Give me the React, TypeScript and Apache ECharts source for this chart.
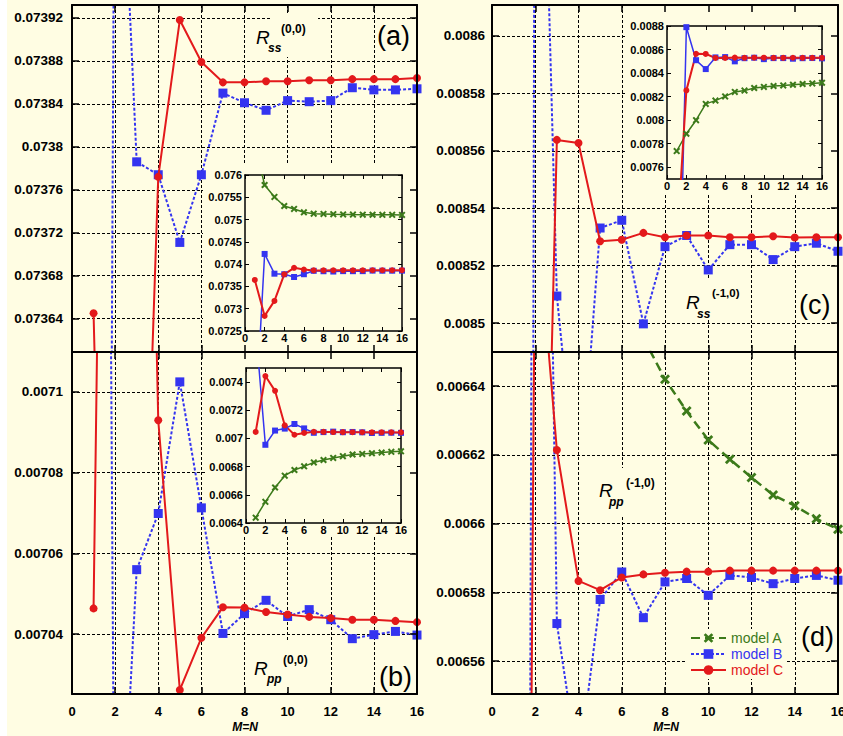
import { useEffect, useRef } from 'react';
import * as echarts from 'echarts';

// ---------- data ----------
const M_N = [1, 2, 3, 4, 5, 6, 7, 8, 9, 10, 11, 12, 13, 14, 15, 16];
const M_N_PP10_A = [7, 8, 9, 10, 11, 12, 13, 14, 15, 16];
const X_TICKS = [0, 2, 4, 6, 8, 10, 12, 14, 16];

// R_ss^(0,0)
const RSS00_A = [0.0767, 0.075776, 0.075507, 0.075305, 0.075238, 0.075163, 0.075132, 0.075126, 0.07512, 0.075115, 0.075112, 0.07511, 0.075108, 0.075107, 0.075106, 0.075105];
const RSS00_B = [0.07021, 0.074229, 0.073786, 0.073774, 0.073711, 0.073774, 0.07385, 0.073841, 0.073834, 0.073843, 0.073842, 0.073843, 0.073855, 0.073853, 0.073853, 0.073854];
const RSS00_C = [0.073645, 0.072839, 0.073175, 0.073772, 0.073918, 0.073879, 0.07386, 0.07386, 0.073861, 0.073861, 0.073862, 0.073862, 0.073863, 0.073863, 0.073863, 0.073864];

// R_pp^(0,0)
const RPP00_A = [0.006438, 0.00655, 0.006652, 0.006736, 0.006776, 0.006802, 0.00683, 0.006847, 0.006862, 0.006874, 0.006886, 0.00689, 0.006895, 0.0069, 0.006905, 0.006909];
const RPP00_B = [0.00778, 0.006955, 0.007056, 0.0070699, 0.0071025, 0.0070713, 0.0070402, 0.0070451, 0.0070484, 0.0070444, 0.0070461, 0.0070436, 0.0070389, 0.0070399, 0.0070407, 0.0070398];
const RPP00_C = [0.0070464, 0.007443, 0.007338, 0.007093, 0.0070262, 0.0070391, 0.0070467, 0.0070466, 0.0070455, 0.0070449, 0.0070443, 0.007044, 0.0070436, 0.0070436, 0.0070433, 0.007043];

// R_ss^(-1,0)
const RSS10_A = [0.0077374, 0.0078845, 0.0079995, 0.008138, 0.008166, 0.008202, 0.00824, 0.008251, 0.008273, 0.008282, 0.00829, 0.008295, 0.008301, 0.008307, 0.008312, 0.008318];
const RSS10_B = [0.00538, 0.00879, 0.0085094, 0.008434, 0.0085331, 0.0085358, 0.0084997, 0.0085266, 0.0085305, 0.0085185, 0.0085273, 0.0085273, 0.0085221, 0.0085266, 0.0085278, 0.008525];
const RSS10_C = [0.00691, 0.008253, 0.0085638, 0.0085627, 0.0085285, 0.008529, 0.0085314, 0.0085299, 0.0085305, 0.0085305, 0.0085299, 0.0085299, 0.0085302, 0.0085298, 0.0085299, 0.0085299];

// R_pp^(-1,0)
const RPP10_A = [0.006654, 0.006642, 0.0066327, 0.0066243, 0.0066187, 0.0066134, 0.0066083, 0.0066052, 0.0066014, 0.0065983];
const RPP10_B = [0.00504, 0.007, 0.0065709, 0.006529, 0.0065779, 0.0065859, 0.0065726, 0.006583, 0.006584, 0.0065791, 0.0065849, 0.0065843, 0.0065825, 0.006584, 0.0065849, 0.0065835];
const RPP10_C = [0.00583, 0.0066966, 0.0066214, 0.0065833, 0.0065806, 0.0065843, 0.0065852, 0.0065857, 0.006586, 0.006586, 0.0065863, 0.0065863, 0.0065863, 0.0065863, 0.0065863, 0.0065863];

// tick labels
const Y_TICKS_A = [0.07364, 0.07368, 0.07372, 0.07376, 0.0738, 0.07384, 0.07388, 0.07392];
const Y_TICKS_B = [0.00704, 0.00706, 0.00708, 0.0071];
const Y_TICKS_C = [0.0085, 0.00852, 0.00854, 0.00856, 0.00858, 0.0086];
const Y_TICKS_D = [0.00656, 0.00658, 0.0066, 0.00662, 0.00664];
const Y_TICKS_INSET_A = [0.0725, 0.073, 0.0735, 0.074, 0.0745, 0.075, 0.0755, 0.076];
const Y_TICKS_INSET_B = [0.0064, 0.0066, 0.0068, 0.007, 0.0072, 0.0074];
const Y_TICKS_INSET_C = [0.0076, 0.0078, 0.008, 0.0082, 0.0084, 0.0086, 0.0088];

const Y_RANGE_A = [0.073609, 0.073932];
const Y_RANGE_B = [0.0070252, 0.0071099];
const Y_RANGE_C = [0.0084899, 0.0086108];
const Y_RANGE_D = [0.0065504, 0.0066499];
const Y_RANGE_INSET_A = [0.0725, 0.076];
const Y_RANGE_INSET_B = [0.0064, 0.0075];
const Y_RANGE_INSET_C = [0.0075, 0.0088];

const SERIES_NAMES = ['model A', 'model B', 'model C'];

// ---------- style ----------
const GREEN = '#3c7a1a';
const BLUE = '#3434f0';
const RED = '#e3191b';
const BG = '#fffde3';
const FONT = '"Liberation Sans", Arial, Helvetica, sans-serif';
const CROSS = 'path://M2,0 L5,3 L8,0 L10,2 L7,5 L10,8 L8,10 L5,7 L2,10 L0,8 L3,5 L0,2 Z';

const pairs = (xs: number[], ys: number[]) => ys.map((y, i) => [xs[i], y]);
const fmt = (v: number) => String(parseFloat(Number(v).toPrecision(6)));

export default function App() {
  const ref = useRef<HTMLDivElement>(null);

  useEffect(() => {
    if (!ref.current) return;
    const chart = echarts.init(ref.current, null, { renderer: 'svg' });

    const grids = [
      { left: 72, top: 5, width: 345, height: 347 },
      { left: 72, top: 352, width: 345, height: 342 },
      { left: 492, top: 5, width: 346, height: 347 },
      { left: 492, top: 352, width: 346, height: 342 },
      { left: 245, top: 175, width: 157, height: 156 },
      { left: 246, top: 368, width: 155, height: 155 },
      { left: 667, top: 26, width: 155, height: 153 },
    ].map((g) => ({ ...g, containLabel: false, outerBoundsMode: 'none' }));

    const xAxes: any[] = [];
    const yAxes: any[] = [];
    const dash = { color: '#000', width: 1, type: [3, 2] };

    const mains = [
      { range: Y_RANGE_A, ticks: Y_TICKS_A, xLabels: false, yMargin: 9 },
      { range: Y_RANGE_B, ticks: Y_TICKS_B, xLabels: true, yMargin: 9 },
      { range: Y_RANGE_C, ticks: Y_TICKS_C, xLabels: false, yMargin: 7 },
      { range: Y_RANGE_D, ticks: Y_TICKS_D, xLabels: true, yMargin: 7 },
    ];
    mains.forEach((m, g) => {
      const xBase = { type: 'value', gridIndex: g, min: X_TICKS[0], max: X_TICKS[X_TICKS.length - 1], interval: 2 };
      const yBase = { type: 'value', gridIndex: g, min: m.range[0], max: m.range[1] };
      // split (grid) axes
      xAxes.push({
        ...xBase, position: 'bottom', z: 0,
        axisLine: { show: false }, axisTick: { show: false }, axisLabel: { show: false },
        splitLine: { show: true, lineStyle: dash },
      });
      yAxes.push({
        ...yBase, position: 'left', z: 0,
        axisLine: { show: false }, axisTick: { show: false, customValues: m.ticks }, axisLabel: { show: false },
        splitLine: { show: true, lineStyle: dash },
      });
      // frame axes
      xAxes.push({
        ...xBase, position: 'bottom', z: 6,
        axisLine: { show: true, onZero: false, lineStyle: { color: '#000', width: 2 } },
        axisTick: { show: true, inside: true, length: 7, lineStyle: { color: '#000', width: 1.5 } },
        axisLabel: { show: m.xLabels, margin: 11, fontSize: 13, fontWeight: 'bold', color: '#000', fontFamily: FONT },
        splitLine: { show: false },
      });
      xAxes.push({
        ...xBase, position: 'top', z: 6,
        axisLine: { show: true, onZero: false, lineStyle: { color: '#000', width: 2 } },
        axisTick: { show: true, inside: true, length: 7, lineStyle: { color: '#000', width: 1.5 } },
        axisLabel: { show: false }, splitLine: { show: false },
      });
      yAxes.push({
        ...yBase, position: 'left', z: 6,
        axisLine: { show: true, onZero: false, lineStyle: { color: '#000', width: 2 } },
        axisTick: { show: true, inside: true, length: 7, customValues: m.ticks, lineStyle: { color: '#000', width: 1.5 } },
        axisLabel: { show: true, customValues: m.ticks, formatter: fmt, margin: m.yMargin, fontSize: 13.5, fontWeight: 'bold', color: '#000', fontFamily: FONT },
        splitLine: { show: false },
      });
      yAxes.push({
        ...yBase, position: 'right', z: 6,
        axisLine: { show: true, onZero: false, lineStyle: { color: '#000', width: 2 } },
        axisTick: { show: true, inside: true, length: 7, customValues: m.ticks, lineStyle: { color: '#000', width: 1.5 } },
        axisLabel: { show: false }, splitLine: { show: false },
      });
    });

    const insets = [
      { range: Y_RANGE_INSET_A, ticks: Y_TICKS_INSET_A },
      { range: Y_RANGE_INSET_B, ticks: Y_TICKS_INSET_B },
      { range: Y_RANGE_INSET_C, ticks: Y_TICKS_INSET_C },
    ];
    insets.forEach((m, k) => {
      const g = 4 + k;
      const xBase = { type: 'value', gridIndex: g, min: X_TICKS[0], max: X_TICKS[X_TICKS.length - 1], interval: 2, z: 6 };
      const yBase = { type: 'value', gridIndex: g, min: m.range[0], max: m.range[1], z: 6 };
      const line = { show: true, onZero: false, lineStyle: { color: '#000', width: 1.5 } };
      const tick = { show: true, inside: true, length: 4, lineStyle: { color: '#000', width: 1 } };
      xAxes.push({
        ...xBase, position: 'bottom', axisLine: line, axisTick: tick,
        axisLabel: { show: true, margin: 1, fontSize: 11, fontWeight: 'bold', color: '#000', fontFamily: FONT },
        splitLine: { show: false },
      });
      xAxes.push({
        ...xBase, position: 'top', axisLine: line, axisTick: tick,
        axisLabel: { show: false }, splitLine: { show: false },
      });
      yAxes.push({
        ...yBase, position: 'left', axisLine: line, axisTick: { ...tick, customValues: m.ticks },
        axisLabel: { show: true, customValues: m.ticks, formatter: fmt, margin: 3, fontSize: 11, fontWeight: 'bold', color: '#000', fontFamily: FONT },
        splitLine: { show: false },
      });
      yAxes.push({
        ...yBase, position: 'right', axisLine: line, axisTick: { ...tick, customValues: m.ticks },
        axisLabel: { show: false }, splitLine: { show: false },
      });
    });

    const mainSeries = (g: number, a: number[][], b: number[][], c: number[][]) => [
      {
        type: 'line', name: SERIES_NAMES[0], xAxisIndex: 3 * g, yAxisIndex: 3 * g, data: a, z: 2,
        symbol: CROSS, symbolSize: 10,
        lineStyle: { color: GREEN, width: 2.5, type: [9, 5] }, itemStyle: { color: GREEN },
      },
      {
        type: 'line', name: SERIES_NAMES[1], xAxisIndex: 3 * g, yAxisIndex: 3 * g, data: b, z: 2,
        symbol: 'rect', symbolSize: 9,
        lineStyle: { color: BLUE, width: 2, type: [3, 2] }, itemStyle: { color: BLUE },
      },
      {
        type: 'line', name: SERIES_NAMES[2], xAxisIndex: 3 * g, yAxisIndex: 3 * g, data: c, z: 3,
        symbol: 'circle', symbolSize: 8,
        lineStyle: { color: RED, width: 2 }, itemStyle: { color: RED },
      },
    ];
    const insetSeries = (k: number, a: number[][], b: number[][], c: number[][]) => {
      const xi = 12 + 2 * k;
      return [
        {
          type: 'line', name: SERIES_NAMES[0], xAxisIndex: xi, yAxisIndex: xi, data: a, z: 7,
          symbol: CROSS, symbolSize: 7,
          lineStyle: { color: GREEN, width: 1.5 }, itemStyle: { color: GREEN },
        },
        {
          type: 'line', name: SERIES_NAMES[1], xAxisIndex: xi, yAxisIndex: xi, data: b, z: 7,
          symbol: 'rect', symbolSize: 6,
          lineStyle: { color: BLUE, width: 1.5 }, itemStyle: { color: BLUE },
        },
        {
          type: 'line', name: SERIES_NAMES[2], xAxisIndex: xi, yAxisIndex: xi, data: c, z: 7,
          symbol: 'circle', symbolSize: 6,
          lineStyle: { color: RED, width: 2 }, itemStyle: { color: RED },
        },
      ];
    };

    const ss00 = [pairs(M_N, RSS00_A), pairs(M_N, RSS00_B), pairs(M_N, RSS00_C)] as const;
    const pp00 = [pairs(M_N, RPP00_A), pairs(M_N, RPP00_B), pairs(M_N, RPP00_C)] as const;
    const ss10 = [pairs(M_N, RSS10_A), pairs(M_N, RSS10_B), pairs(M_N, RSS10_C)] as const;
    const pp10 = [pairs(M_N_PP10_A, RPP10_A), pairs(M_N, RPP10_B), pairs(M_N, RPP10_C)] as const;

    const series = [
      ...mainSeries(0, ss00[0], ss00[1], ss00[2]),
      ...mainSeries(1, pp00[0], pp00[1], pp00[2]),
      ...mainSeries(2, ss10[0], ss10[1], ss10[2]),
      ...mainSeries(3, pp10[0], pp10[1], pp10[2]),
      ...insetSeries(0, ss00[0], ss00[1], ss00[2]),
      ...insetSeries(1, pp00[0], pp00[1], pp00[2]),
      ...insetSeries(2, ss10[0], ss10[1], ss10[2]),
    ];

    const rect = (x: number, y: number, w: number, h: number) => ({
      type: 'rect', z: 1, silent: true, shape: { x, y, width: w, height: h }, style: { fill: BG },
    });
    const txt = (t: string, x: number, y: number, size: number, style = 'normal', weight = 'normal') => ({
      type: 'text', z: 8, silent: true, x, y,
      style: {
        text: t, fill: '#000', fontSize: size, fontStyle: style, fontWeight: weight, fontFamily: FONT,
        textAlign: 'left', textVerticalAlign: 'middle', verticalAlign: 'middle',
      },
    });

    const graphics: any[] = [
      { type: 'rect', z: 0, silent: true, shape: { x: 0, y: 0, width: 7, height: 736 }, style: { fill: '#ffffff' } },
      // inset covers
      rect(203, 165, 214, 187),
      rect(207, 352, 210, 185),
      rect(625, 5, 213, 190),
      // label boxes
      rect(270, 14, 48, 43),
      rect(250, 642, 62, 50),
      rect(685, 278, 60, 42),
      rect(598, 468, 64, 47),
      // annotations
      txt('R', 256, 37, 19, 'italic'),
      txt('ss', 268, 48, 12, 'italic', 'bold'),
      txt('(0,0)', 281, 29, 12, 'normal', 'bold'),
      txt('(a)', 377, 36, 27),
      txt('R', 254, 668, 19, 'italic'),
      txt('pp', 267, 679, 12, 'italic', 'bold'),
      txt('(0,0)', 283, 660, 12, 'normal', 'bold'),
      txt('(b)', 379, 677, 27),
      txt('R', 686, 302, 19, 'italic'),
      txt('ss', 697, 314, 12, 'italic', 'bold'),
      txt('(-1,0)', 712, 293, 11.5, 'normal', 'bold'),
      txt('(c)', 799, 305, 27),
      txt('R', 599, 490, 19, 'italic'),
      txt('pp', 609, 502, 12, 'italic', 'bold'),
      txt('(-1,0)', 626, 483, 12, 'normal', 'bold'),
      txt('(d)', 801, 637, 27),
      {
        type: 'text', z: 8, silent: true, x: 245, y: 727,
        style: { text: 'M=N', fill: '#000', fontSize: 12, fontStyle: 'italic', fontWeight: 'bold', fontFamily: FONT, textAlign: 'center', textVerticalAlign: 'middle', verticalAlign: 'middle' },
      },
      {
        type: 'text', z: 8, silent: true, x: 666, y: 727,
        style: { text: 'M=N', fill: '#000', fontSize: 12, fontStyle: 'italic', fontWeight: 'bold', fontFamily: FONT, textAlign: 'center', textVerticalAlign: 'middle', verticalAlign: 'middle' },
      },
    ];

    const legendText = (color: string) => ({ color, fontSize: 14, lineHeight: 16, fontFamily: FONT });

    chart.setOption({
      animation: false,
      backgroundColor: BG,
      grid: grids,
      xAxis: xAxes,
      yAxis: yAxes,
      series,
      legend: {
        show: true, orient: 'vertical', left: 687, top: 629, z: 9,
        itemWidth: 35, itemHeight: 12, itemGap: 0, padding: [1, 3],
        backgroundColor: BG, selectedMode: false,
        textStyle: { fontSize: 14, lineHeight: 16, fontFamily: FONT },
        data: [
          { name: SERIES_NAMES[0], textStyle: legendText(GREEN) },
          { name: SERIES_NAMES[1], textStyle: legendText(BLUE) },
          { name: SERIES_NAMES[2], textStyle: legendText(RED) },
        ],
      },
      graphic: graphics,
    });

    return () => chart.dispose();
  }, []);

  return <div ref={ref} style={{ position: 'fixed', left: 0, top: 0, width: 843, height: 736 }} />;
}
